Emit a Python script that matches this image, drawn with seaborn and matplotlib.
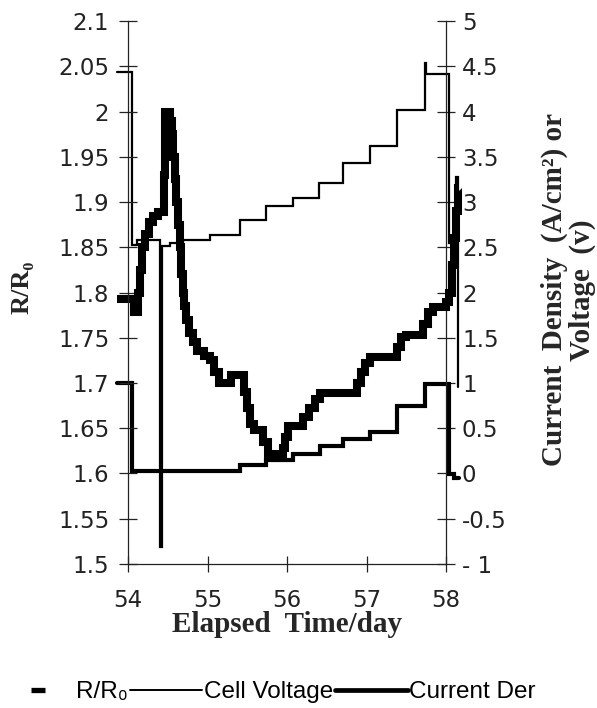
import matplotlib
matplotlib.use("Agg")
import matplotlib.pyplot as plt
import seaborn as sns
from matplotlib.lines import Line2D

# ------------------------------------------------------------------
# style
# ------------------------------------------------------------------
sns.set_theme(style="white")
plt.rcParams.update({
    "font.family": ["DejaVu Sans"],
    "axes.edgecolor": "#222222",
    "axes.linewidth": 0.9,
    "xtick.color": "#222222",
    "ytick.color": "#222222",
    "text.color": "black",
})

LABEL_FONT = ["Liberation Serif", "DejaVu Serif"]
LEGEND_FONT = ["Liberation Sans", "DejaVu Sans"]

# ------------------------------------------------------------------
# data
# ------------------------------------------------------------------
# R/R0, left axis, value held from each time (steps)
RR_DAY = [53.86, 54.08, 54.12, 54.15, 54.18, 54.22, 54.27, 54.32, 54.38,
          54.45, 54.46, 54.47, 54.53, 54.55, 54.57, 54.59, 54.61, 54.63,
          54.65, 54.67, 54.69, 54.71, 54.73, 54.77, 54.82, 54.87, 54.95,
          55.03, 55.08, 55.14, 55.30, 55.46, 55.50, 55.53, 55.58, 55.70,
          55.76, 55.85, 55.95, 55.98, 56.01, 56.20, 56.28, 56.35, 56.42,
          56.88, 56.93, 56.98, 57.04, 57.38, 57.44, 57.50, 57.71, 57.77,
          57.84, 58.00, 58.04, 58.07, 58.10, 58.12, 58.15, 58.16]
RR_VAL = [1.793, 1.778, 1.800, 1.825, 1.850, 1.865, 1.878, 1.885, 1.889,
          1.930, 1.965, 2.000, 1.990, 1.975, 1.950, 1.925, 1.900, 1.875,
          1.850, 1.820, 1.800, 1.785, 1.770, 1.755, 1.745, 1.735, 1.730,
          1.725, 1.712, 1.700, 1.709, 1.690, 1.672, 1.655, 1.648, 1.635,
          1.622, 1.617, 1.628, 1.640, 1.652, 1.662, 1.672, 1.682, 1.689,
          1.700, 1.712, 1.722, 1.729, 1.740, 1.751, 1.753, 1.765, 1.778,
          1.784, 1.790, 1.800, 1.830, 1.860, 1.890, 1.915, 1.915]

# Cell voltage (V), right axis
CV_DAY = [53.86, 54.05, 54.11, 54.40, 54.43, 54.53, 54.69, 55.03, 55.41,
          55.74, 56.08, 56.40, 56.71, 57.04, 57.38, 57.74, 57.75, 58.04,
          58.13, 58.15, 58.15]
CV_VAL = [4.44, 2.52, 2.58, -0.81, 2.51, 2.55, 2.58, 2.635, 2.80,
          2.96, 3.04, 3.21, 3.43, 3.62, 4.02, 4.54, 4.42, 2.55,
          3.28, 0.96, 0.96]

# Current density (A/cm2), right axis
CD_DAY = [53.86, 54.05, 55.41, 55.74, 56.08, 56.41, 56.71, 57.04, 57.38,
          57.74, 58.04, 58.10, 58.16]
CD_VAL = [1.00, 0.03, 0.09, 0.15, 0.22, 0.30, 0.38, 0.46, 0.75,
          0.99, -0.005, -0.05, -0.05]

X_TICKS = [54, 55, 56, 57, 58]
X_LABELS = ["54", "55", "56", "57", "58"]
L_TICKS = [1.5, 1.55, 1.6, 1.65, 1.7, 1.75, 1.8, 1.85, 1.9, 1.95, 2.0, 2.05, 2.1]
L_LABELS = ["1.5", "1.55", "1.6", "1.65", "1.7", "1.75", "1.8", "1.85",
            "1.9", "1.95", "2", "2.05", "2.1"]
R_TICKS = [-1, -0.5, 0, 0.5, 1, 1.5, 2, 2.5, 3, 3.5, 4, 4.5, 5]
R_LABELS = ["- 1", "-0.5", "0", "0.5", "1", "1.5", "2", "2.5", "3", "3.5",
            "4", "4.5", "5"]

# ------------------------------------------------------------------
# figure
# ------------------------------------------------------------------
fig = plt.figure(figsize=(5.97, 7.08), dpi=100)
fig.patch.set_facecolor("white")
ax = fig.add_axes([0.2144, 0.2034, 0.5327, 0.7669])
ax2 = ax.twinx()

sns.lineplot(x=CD_DAY, y=CD_VAL, ax=ax2, color="black", lw=3.0,
             drawstyle="steps-post", sort=False, estimator=None,
             legend=False, clip_on=False, solid_joinstyle="miter")
sns.lineplot(x=CV_DAY, y=CV_VAL, ax=ax2, color="black", lw=1.6,
             drawstyle="steps-post", sort=False, estimator=None,
             legend=False, clip_on=False, solid_joinstyle="miter")
sns.lineplot(x=RR_DAY, y=RR_VAL, ax=ax, color="black", lw=5.8,
             drawstyle="steps-post", sort=False, estimator=None,
             legend=False, clip_on=False, solid_joinstyle="miter",
             solid_capstyle="butt")
ax.set_zorder(ax2.get_zorder() + 1)
ax.patch.set_visible(False)

ax.set_xlim(54, 58)
ax.set_ylim(1.5, 2.1)
ax2.set_ylim(-1, 5)

ax.set_xticks(X_TICKS, X_LABELS)
ax.set_yticks(L_TICKS, L_LABELS)
ax2.set_yticks(R_TICKS, R_LABELS)

for s in ["top", "right"]:
    ax.spines[s].set_visible(False)
for s in ["top", "left", "bottom"]:
    ax2.spines[s].set_visible(False)
ax2.spines["right"].set_linewidth(0.9)
ax2.grid(False)
ax.grid(False)

ax.tick_params(axis="y", direction="inout", length=13, width=0.9,
               labelsize=16.5, pad=7, left=True)
ax.tick_params(axis="x", direction="inout", length=12, width=0.9,
               labelsize=16.5, pad=12, bottom=True)
ax2.tick_params(axis="y", direction="inout", length=13, width=0.9,
                labelsize=16.5, pad=5, right=True)

ax.set_xlabel("Elapsed  Time/day", fontsize=21, fontweight="bold",
              family=LABEL_FONT)
ax.xaxis.set_label_coords(0.5, -0.112)
ax.xaxis.label.set_va("center")

ax.set_ylabel("R/R\u2080", fontsize=19, fontweight="bold", family=LABEL_FONT)
ax.yaxis.set_label_coords(-0.333, 0.51)
ax.yaxis.label.set_va("center")

ax2.set_ylabel("Current  Density  (A/cm\u00b2) or\nVoltage  (v)",
               fontsize=21, fontweight="bold", family=LABEL_FONT,
               linespacing=1.0, multialignment="center")
ax2.yaxis.set_label_coords(1.385, 0.505)
ax2.yaxis.label.set_va("center")

# legend along the bottom, cut off like the original
handles = [
    Line2D([], [], ls="none", marker="_", ms=10, mew=3.8, color="black"),
    Line2D([], [], color="black", lw=1.4),
    Line2D([], [], color="black", lw=3.4),
]
labels = ["R/R\u2080", "Cell Voltage", "Current Der"]
fig.legend(handles, labels, loc="center left",
           bbox_to_anchor=(-0.034, 1 - 692 / 708), ncol=3, frameon=False,
           handlelength=3.0, handletextpad=0.05, columnspacing=0.08,
           prop={"family": LEGEND_FONT, "size": 17.5})

fig.savefig("out.png", dpi=100, facecolor="white")
